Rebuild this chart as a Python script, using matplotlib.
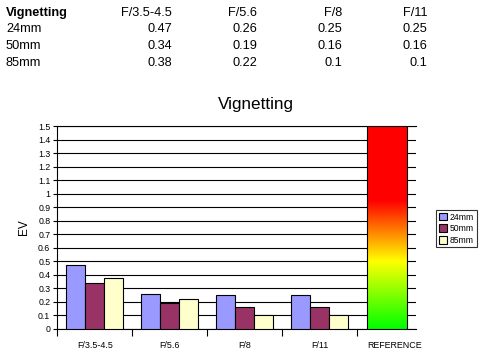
import numpy as np
import matplotlib
matplotlib.use("Agg")
from matplotlib import pyplot as plt
from matplotlib.colors import LinearSegmentedColormap
from matplotlib.patches import Rectangle

plt.rcParams['font.family'] = ['Liberation Sans', 'DejaVu Sans']

# data
apertures = ['F/3.5-4.5', 'F/5.6', 'F/8', 'F/11']
categories = apertures + ['REFERENCE']
lenses = ['24mm', '50mm', '85mm']
ev_24 = [0.47, 0.26, 0.25, 0.25]
ev_50 = [0.34, 0.19, 0.16, 0.16]
ev_85 = [0.38, 0.22, 0.1, 0.1]
series = [ev_24, ev_50, ev_85]
colors = ['#9999FF', '#993366', '#FFFFCC']
ref_height = 1.5
ref_stops = [0.0, 0.5, 0.95, 1.5]
ref_colors = ['#00FF00', '#FFFF00', '#FF0000', '#FF0000']

fig = plt.figure(figsize=(4.99, 3.56), dpi=100)

# table on top
fs = 9.2
rows_y = [1 - 13 / 356, 1 - 29 / 356, 1 - 46 / 356, 1 - 63 / 356]
col_x = [172 / 499, 257 / 499, 342 / 499, 427 / 499]
fig.text(6 / 499, rows_y[0], 'Vignetting', fontsize=fs, fontweight='bold', va='center', ha='left')
for c, name in enumerate(apertures):
    fig.text(col_x[c], rows_y[0], name, fontsize=fs, va='center', ha='right')
for r, lens in enumerate(lenses):
    fig.text(6 / 499, rows_y[r + 1], lens, fontsize=fs, va='center', ha='left')
    for c in range(len(apertures)):
        fig.text(col_x[c], rows_y[r + 1], '%g' % series[r][c], fontsize=fs, va='center', ha='right')

# chart
ax = fig.add_axes([57.3 / 499, 1 - 329 / 356, (416 - 57.3) / 499, (329 - 126) / 356])
w = 0.253
x = np.arange(len(apertures))
for i, (vals, col, lab) in enumerate(zip(series, colors, lenses)):
    ax.bar(x + (i - 1) * w, vals, width=w, color=col, edgecolor='black', linewidth=0.8,
           label=lab, zorder=3)

# gradient reference bar
cmap = LinearSegmentedColormap.from_list(
    'ref', [(s / ref_height, c) for s, c in zip(ref_stops, ref_colors)])
ref_x0, ref_w = 3.63, 0.53
grad = np.linspace(0, 1, 256).reshape(-1, 1)
ax.imshow(grad, cmap=cmap, origin='lower', aspect='auto',
          extent=[ref_x0, ref_x0 + ref_w, 0, ref_height], zorder=3)
ax.add_patch(Rectangle((ref_x0, 0), ref_w, ref_height, fill=False,
                       edgecolor='black', linewidth=0.8, zorder=4))

ax.set_xlim(-0.5, 4.283)
ax.set_ylim(0, 1.5)
yt = np.round(np.arange(0, 1.51, 0.1), 1)
ax.set_yticks(yt)
ax.set_yticklabels(['%g' % v for v in yt], fontsize=6.3)
ax.yaxis.grid(True, color='black', linewidth=0.8, zorder=1)
ax.tick_params(axis='y', length=3, width=0.8, pad=2)

ax.set_xticks(np.arange(len(categories)))
ax.set_xticklabels(categories, fontsize=6.4)
ax.set_xticks(np.arange(len(categories)) - 0.5, minor=True)
ax.tick_params(axis='x', which='major', length=0, pad=9)
ax.tick_params(axis='x', which='minor', length=5, width=0.8, direction='out')

ax.spines['right'].set_visible(False)
for s in ['left', 'bottom', 'top']:
    ax.spines[s].set_linewidth(0.8)
ax.set_ylabel('EV', fontsize=8.5, labelpad=6)

fig.text(256 / 499, 1 - 105 / 356, 'Vignetting', fontsize=12.3, ha='center', va='center')

leg = fig.legend(loc='upper left', bbox_to_anchor=(436 / 499, 1 - 210 / 356),
                 fontsize=6.2, frameon=True, fancybox=False, edgecolor='black',
                 handlelength=1.0, handleheight=1.0, handletextpad=0.3,
                 borderpad=0.3, labelspacing=0.3, borderaxespad=0)
leg.get_frame().set_linewidth(0.8)

fig.savefig('out.png', dpi=100)
